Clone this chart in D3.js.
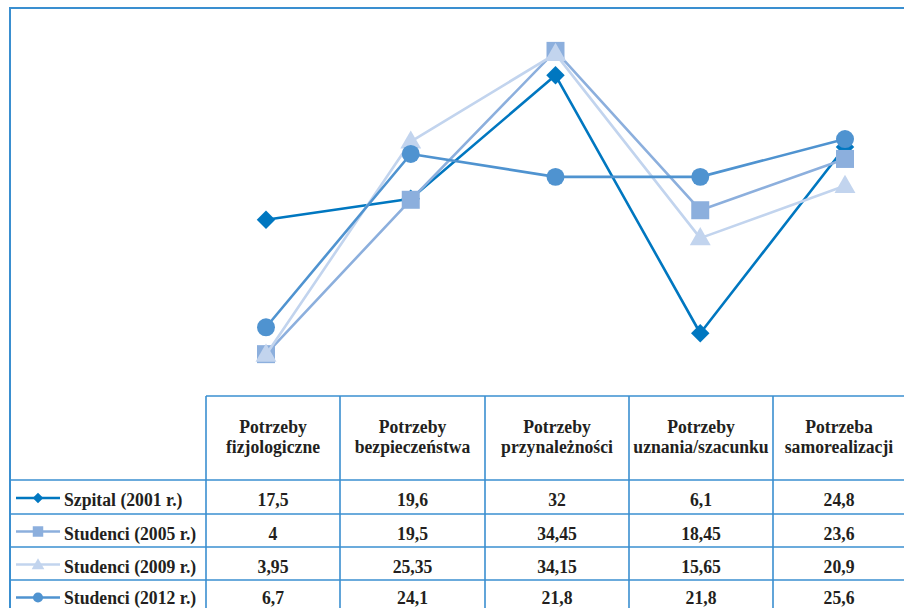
<!DOCTYPE html>
<html>
<head>
<meta charset="utf-8">
<script src="https://cdn.jsdelivr.net/npm/d3@7"></script>
<style>
  html, body { margin: 0; padding: 0; background: #fff; }
  svg { display: block; }
</style>
</head>
<body>
<svg id="chart" width="904" height="608"></svg>
<script>
// Categories: Maslow's hierarchy levels (two-line header labels)
const categories = [
  ["Potrzeby", "fizjologiczne"],
  ["Potrzeby", "bezpieczeństwa"],
  ["Potrzeby", "przynależności"],
  ["Potrzeby", "uznania/szacunku"],
  ["Potrzeba", "samorealizacji"]
];

const seriesNames = ["Szpital (2001 r.)", "Studenci (2005 r.)", "Studenci (2009 r.)", "Studenci (2012 r.)"];

const szpital2001  = [17.5, 19.6, 32, 6.1, 24.8];
const studenci2005 = [4, 19.5, 34.45, 18.45, 23.6];
const studenci2009 = [3.95, 25.35, 34.15, 15.65, 20.9];
const studenci2012 = [6.7, 24.1, 21.8, 21.8, 25.6];

// Table cell labels, as printed
const labels2001 = ["17,5", "19,6", "32", "6,1", "24,8"];
const labels2005 = ["4", "19,5", "34,45", "18,45", "23,6"];
const labels2009 = ["3,95", "25,35", "34,15", "15,65", "20,9"];
const labels2012 = ["6,7", "24,1", "21,8", "21,8", "25,6"];

const series = [
  { name: seriesNames[0], values: szpital2001,  labels: labels2001, color: "#0077c0", marker: "diamond" },
  { name: seriesNames[1], values: studenci2005, labels: labels2005, color: "#8cafdd", marker: "square" },
  { name: seriesNames[2], values: studenci2009, labels: labels2009, color: "#c2d4ee", marker: "triangle" },
  { name: seriesNames[3], values: studenci2012, labels: labels2012, color: "#4f93d0", marker: "circle" }
];

const FONT = "'Liberation Serif', Tinos, 'Times New Roman', Times, 'DejaVu Serif', serif";
const FONT_SIZE = 19;
const SQUEEZE = 0.93; // narrow-set table typeface
const svg = d3.select("#chart");
const borderColor = "#3a8fd0";

// Scales
const idx = d3.range(categories.length);
const x = d3.scalePoint().domain(idx).range([266, 845]);
const y = d3.scaleLinear().domain([0, 35]).range([394, 45.4]);

// Frame: top and left rules of the plot area
svg.append("line").attr("x1", 9).attr("x2", 904).attr("y1", 8).attr("y2", 8)
  .attr("stroke", borderColor).attr("stroke-width", 2);
svg.append("line").attr("x1", 10).attr("x2", 10).attr("y1", 7).attr("y2", 608)
  .attr("stroke", borderColor).attr("stroke-width", 2);

// Marker shapes
function markerPath(type, big) {
  if (type === "diamond") return d3.symbol(d3.symbolSquare, big ? 170 : 56)();
  if (type === "square") return d3.symbol(d3.symbolSquare, big ? 324 : 110)();
  if (type === "triangle") return d3.symbol(d3.symbolTriangle, big ? 190 : 70)();
  return d3.symbol(d3.symbolCircle, big ? 254 : 80)();
}
function markerTransform(type, px, py) {
  let t = `translate(${px},${py})`;
  if (type === "diamond") t += " rotate(45)";
  if (type === "triangle") t += " translate(0,1)";
  return t;
}

// Lines and markers
const line = d3.line().x((d, i) => x(i)).y(d => y(d));
const plot = svg.append("g");
series.forEach(s => {
  const g = plot.append("g");
  g.append("path").datum(s.values)
    .attr("d", line)
    .attr("fill", "none")
    .attr("stroke", s.color)
    .attr("stroke-width", 2.6)
    .attr("stroke-linejoin", "round");
  g.selectAll("path.mk").data(s.values).enter().append("path")
    .attr("class", "mk")
    .attr("d", markerPath(s.marker, true))
    .attr("transform", (d, i) => markerTransform(s.marker, x(i), y(d)))
    .attr("fill", s.color);
});

// Data table
const colEdges = [206, 340, 485, 629, 773, 917];
const headerTop = 396;
const rowEdges = [480, 514, 547, 580, 613];
const table = svg.append("g")
  .attr("font-family", FONT)
  .attr("font-weight", "bold")
  .attr("fill", "#231f20");

table.append("line").attr("x1", colEdges[0]).attr("x2", 904)
  .attr("y1", headerTop).attr("y2", headerTop)
  .attr("stroke", borderColor).attr("stroke-width", 1.6);
rowEdges.slice(0, 4).forEach(ry => {
  table.append("line").attr("x1", 10).attr("x2", 904)
    .attr("y1", ry).attr("y2", ry)
    .attr("stroke", borderColor).attr("stroke-width", 1.6);
});
colEdges.slice(0, 5).forEach(cx => {
  table.append("line").attr("x1", cx).attr("x2", cx)
    .attr("y1", headerTop).attr("y2", 608)
    .attr("stroke", borderColor).attr("stroke-width", 1.6);
});

const colCenter = i => (colEdges[i] + colEdges[i + 1]) / 2 - (i === 4 ? 6 : 0);

function addText(px, py, str, anchor) {
  return table.append("text")
    .attr("transform", `translate(${px},${py}) scale(${SQUEEZE},1)`)
    .attr("text-anchor", anchor)
    .attr("font-size", FONT_SIZE)
    .text(str);
}

// Header labels
categories.forEach((c, i) => {
  addText(colCenter(i), 433, c[0], "middle");
  addText(colCenter(i), 453, c[1], "middle");
});

// Rows: legend key + values (last row lifted slightly so it stays on the page)
series.forEach((s, r) => {
  const cy = (rowEdges[r] + rowEdges[r + 1]) / 2;
  const base = Math.min(cy + 9, 603.5);
  table.append("line").attr("x1", 16).attr("x2", 60)
    .attr("y1", cy + 1).attr("y2", cy + 1)
    .attr("stroke", s.color).attr("stroke-width", 2.4);
  table.append("path")
    .attr("d", markerPath(s.marker, false))
    .attr("transform", markerTransform(s.marker, 38, cy + 1))
    .attr("fill", s.color);
  addText(64, base, s.name, "start");
  s.labels.forEach((lab, i) => addText(colCenter(i), base, lab, "middle"));
});
</script>
</body>
</html>
